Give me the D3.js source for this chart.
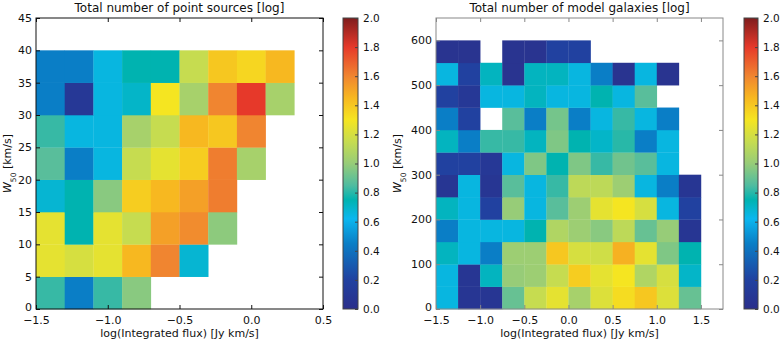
<!DOCTYPE html>
<html>
<head>
<meta charset="utf-8">
<script src="https://cdn.jsdelivr.net/npm/d3@7"></script>
<style>
  body { margin: 0; background: #fff; }
  text { font-family: "DejaVu Sans", sans-serif; fill: #111; }
</style>
</head>
<body>
<div id="chart"></div>
<script>
// ---------------------------------------------------------------- data
// left panel: point sources, bins 0.2 dex in flux, 5 km/s in W50
const leftXBins = [-1.5, -1.3, -1.1, -0.9, -0.7, -0.5, -0.3, -0.1, 0.1];
const leftYBins = [0, 5, 10, 15, 20, 25, 30, 35];
// rows from bottom (0-5) to top (35-40), log counts
const leftValues = [
    [0.82, 0.45, 0.82, 0.97, null, null, null, null, null],
    [1.25, 1.20, 1.25, 1.45, 1.60, 0.68, null, null, null],
    [1.25, 0.75, 1.25, 1.15, 1.52, 1.58, 0.98, null, null],
    [0.68, 0.75, 0.97, 1.38, 1.45, 1.52, 1.62, null, null],
    [0.87, 0.45, 0.65, 1.15, 1.25, 1.38, 1.62, 1.05, null],
    [0.82, 0.65, 0.65, 1.05, 1.15, 1.45, 1.40, 1.60, null],
    [0.45, 0.10, 0.65, 0.70, 1.30, 1.05, 1.60, 1.80, 1.05],
    [0.45, 0.45, 0.65, 0.75, 0.75, 1.15, 1.40, 1.35, 1.45]
];
const leftXTicks = [-1.5, -1.0, -0.5, 0.0, 0.5];
const leftYTicks = [0, 5, 10, 15, 20, 25, 30, 35, 40, 45];

// right panel: model galaxies, bins 0.25 dex in flux, 50 km/s in W50
const rightXBins = [-1.5, -1.25, -1.0, -0.75, -0.5, -0.25, 0.0, 0.25, 0.5, 0.75, 1.0, 1.25];
const rightYBins = [0, 50, 100, 150, 200, 250, 300, 350, 400, 450, 500, 550];
const rightValues = [
    [0.65, 0.08, 0.08, 0.90, 1.15, 1.25, 1.05, 1.22, 1.33, 1.40, 1.22, 0.90],
    [0.65, 0.08, 0.72, 1.00, 1.02, 1.15, 1.38, 1.25, 1.30, 1.08, 1.20, 0.70],
    [0.72, 0.65, 0.45, 1.02, 1.02, 1.40, 1.20, 1.18, 1.47, 1.25, 0.95, 0.75],
    [0.45, 0.65, 0.65, 0.65, 0.75, 1.08, 1.02, 0.97, 1.12, 0.90, 1.00, 0.08],
    [0.72, 0.65, 0.20, 1.00, 0.65, 0.87, 1.02, 1.25, 1.30, 1.20, 0.65, 0.20],
    [0.08, 0.65, 0.08, 0.87, 0.65, 0.82, 1.12, 1.12, 1.02, 0.65, 0.45, 0.08],
    [0.20, 0.20, 0.10, 0.65, 0.95, 0.75, 0.95, 0.82, 0.92, 0.87, 0.65, null],
    [0.72, 0.45, 0.82, 0.82, 0.72, 0.95, 0.75, 0.70, 0.80, 0.45, 0.65, null],
    [0.45, 0.20, null, 0.87, 0.45, 0.93, 0.45, 0.65, 0.82, 0.65, 0.45, null],
    [0.20, 0.10, 0.65, 0.65, 0.72, 0.65, 0.65, 0.75, 0.65, 0.87, null, null],
    [0.65, 0.20, 0.72, 0.05, 0.72, 0.72, 0.65, 0.45, 0.05, 0.65, 0.05, null],
    [0.05, 0.05, null, 0.05, 0.05, 0.20, 0.20, null, null, null, null, null]
];
const rightXTicks = [-1.5, -1.0, -0.5, 0.0, 0.5, 1.0, 1.5];
const rightYTicks = [0, 100, 200, 300, 400, 500, 600];

const colorTicks = [0, 0.2, 0.4, 0.6, 0.8, 1.0, 1.2, 1.4, 1.6, 1.8, 2.0];

// colormap stops (value -> colour)
const cmapStops = [0, 0.2, 0.45, 0.62, 0.75, 0.85, 1.0, 1.15, 1.3, 1.45, 1.6, 1.8, 2.0];
const cmapColors = ["#2b2f8b", "#2141a0", "#0a7ec6", "#0bb7ef", "#00b3b0", "#4fbca0",
    "#97cc78", "#c6dc50", "#f5e521", "#f7b820", "#f08530", "#e6392a", "#7f1d1d"];

// ---------------------------------------------------------------- setup
const width = 781, height = 341;
const color = d3.scaleLinear().domain(cmapStops).range(cmapColors).clamp(true);

const svg = d3.select("#chart").append("svg")
    .attr("width", width)
    .attr("height", height);

function fmt(d) {
    return d3.format(".1f")(d).replace("-", "\u2212");
}

function panel(opts) {
    const x = d3.scaleLinear().domain(opts.xDomain).range([opts.left, opts.right]);
    const y = d3.scaleLinear().domain(opts.yDomain).range([opts.bottom, opts.top]);
    const g = svg.append("g");

    // cells
    const cells = [];
    opts.values.forEach((row, j) => row.forEach((v, i) => {
        if (v !== null) cells.push({ x0: opts.xBins[i], y0: opts.yBins[j], v: v });
    }));
    g.append("g").selectAll("rect")
        .data(cells)
        .join("rect")
        .attr("x", d => x(d.x0))
        .attr("y", d => y(d.y0 + opts.yStep))
        .attr("width", d => x(d.x0 + opts.xStep) - x(d.x0) + 0.3)
        .attr("height", d => y(d.y0) - y(d.y0 + opts.yStep) + 0.3)
        .attr("fill", d => color(d.v));

    // axes with inward ticks on all sides
    const tk = 4;
    g.append("g").attr("transform", `translate(0,${opts.bottom})`)
        .call(d3.axisBottom(x).tickValues(opts.xTicks).tickFormat(fmt).tickSizeInner(-tk).tickSizeOuter(0).tickPadding(7.5));
    g.append("g").attr("transform", `translate(0,${opts.top})`)
        .call(d3.axisTop(x).tickValues(opts.xTicks).tickFormat("").tickSizeInner(-tk).tickSizeOuter(0));
    const yAx = g.append("g").attr("transform", `translate(${opts.left},0)`)
        .call(d3.axisLeft(y).tickValues(opts.yTicks).tickFormat(d3.format("d")).tickSizeInner(-tk).tickSizeOuter(0).tickPadding(4));
    // lift the "0" label a little so it clears the first x label
    yAx.selectAll(".tick text").filter(d => d === 0).attr("dy", "0.1em");
    g.append("g").attr("transform", `translate(${opts.right},0)`)
        .call(d3.axisRight(y).tickValues(opts.yTicks).tickFormat("").tickSizeInner(-tk).tickSizeOuter(0));
    g.selectAll(".domain").remove();
    g.selectAll(".tick line").attr("stroke", opts.frame);
    g.selectAll(".tick text").style("font-size", "11px").attr("fill", "#111");

    g.append("rect")
        .attr("x", opts.left).attr("y", opts.top)
        .attr("width", opts.right - opts.left).attr("height", opts.bottom - opts.top)
        .attr("fill", "none").attr("stroke", opts.frame).attr("stroke-width", 1);

    // titles and labels
    const cx = (opts.left + opts.right) / 2;
    g.append("text").attr("x", cx).attr("y", 12)
        .attr("text-anchor", "middle").style("font-size", "12px")
        .text(opts.title);
    g.append("text").attr("x", cx).attr("y", 337)
        .attr("text-anchor", "middle").style("font-size", "11px")
        .text("log(Integrated flux) [Jy km/s]");
    const yl = g.append("text")
        .attr("transform", `translate(${opts.ylabelX},${(opts.top + opts.bottom) / 2}) rotate(-90)`)
        .attr("text-anchor", "middle").style("font-size", "11px");
    yl.append("tspan").style("font-style", "italic").text("W");
    yl.append("tspan").attr("baseline-shift", "sub").style("font-size", "7.5px").text("50");
    yl.append("tspan").text(" [km/s]");

    // colour bar
    const cy = d3.scaleLinear().domain([0, 2]).range([opts.bottom, opts.top]);
    const gradId = "grad" + opts.id;
    const grad = svg.append("defs").append("linearGradient")
        .attr("id", gradId).attr("x1", 0).attr("x2", 0).attr("y1", 1).attr("y2", 0);
    grad.selectAll("stop").data(cmapStops).join("stop")
        .attr("offset", d => d / 2)
        .attr("stop-color", d => color(d));
    g.append("rect")
        .attr("x", opts.cbLeft).attr("y", opts.top)
        .attr("width", opts.cbWidth).attr("height", opts.bottom - opts.top)
        .attr("fill", `url(#${gradId})`)
        .attr("stroke", "#444").attr("stroke-width", 1);
    const cb = g.append("g").attr("transform", `translate(${opts.cbLeft + opts.cbWidth},0)`)
        .call(d3.axisRight(cy).tickValues(colorTicks).tickFormat(d3.format(".1f")).tickSizeInner(-3).tickSizeOuter(0).tickPadding(5));
    cb.select(".domain").remove();
    cb.selectAll(".tick line").attr("stroke", "#444");
    cb.selectAll(".tick text").style("font-size", "10.5px").attr("fill", "#111");
}

panel({
    id: "L", title: "Total number of point sources [log]",
    xDomain: [-1.5, 0.5], yDomain: [0, 45],
    left: 36, right: 323, top: 18, bottom: 309,
    xBins: leftXBins, yBins: leftYBins, xStep: 0.2, yStep: 5,
    values: leftValues, xTicks: leftXTicks, yTicks: leftYTicks,
    frame: "#111", ylabelX: 11, cbLeft: 343, cbWidth: 15
});

panel({
    id: "R", title: "Total number of model galaxies [log]",
    xDomain: [-1.5, 1.75], yDomain: [0, 650],
    left: 436, right: 723, top: 18, bottom: 309,
    xBins: rightXBins, yBins: rightYBins, xStep: 0.25, yStep: 50,
    values: rightValues, xTicks: rightXTicks, yTicks: rightYTicks,
    frame: "#888", ylabelX: 401, cbLeft: 744, cbWidth: 14
});
</script>
</body>
</html>
